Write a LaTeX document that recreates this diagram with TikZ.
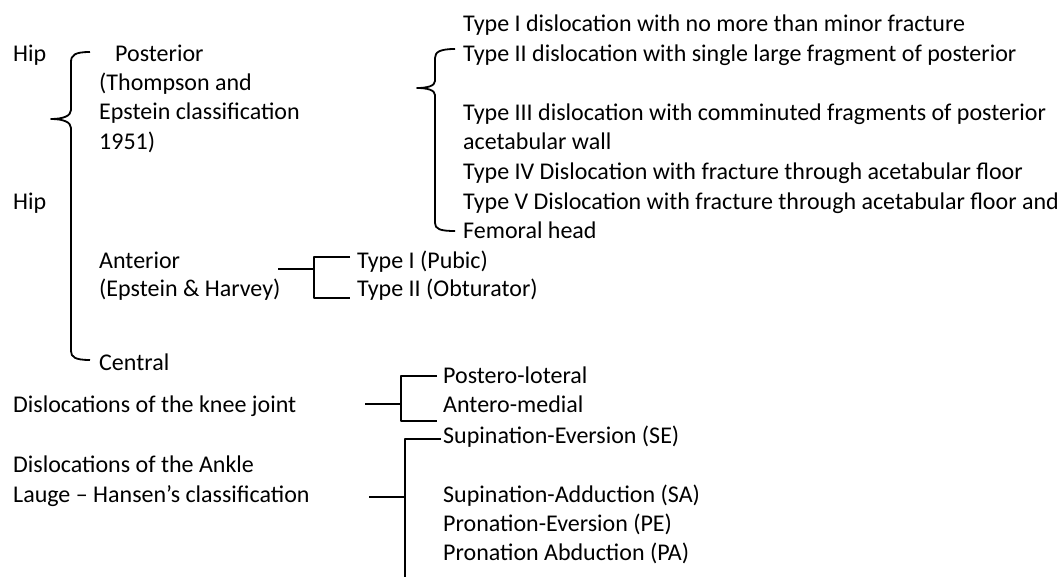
\documentclass[tikz,border=0pt]{standalone}
\usepackage{fontspec}
\setmainfont{Carlito}
\begin{document}
\begin{tikzpicture}[x=1pt,y=-1pt,
  lbl/.style={anchor=base west,inner sep=0pt,font=\fontsize{24}{29}\selectfont},
  ln/.style={line width=1.8pt,line join=round}]
\useasboundingbox[fill=white] (0,0) rectangle (1062,577);
% left column
\node[lbl] (hip1) at (13,61.5) {Hip};
\node[lbl] (hip2) at (13,209.5) {Hip};
\node[lbl] (post) at (115,61.5) {Posterior};
\node[lbl] (post2) at (99,90.5) {(Thompson and};
\node[lbl] (post3) at (99,120) {Epstein classification};
\node[lbl] (post4) at (99,149.5) {1951)};
\node[lbl] (ant) at (99,268.5) {Anterior};
\node[lbl] (ant2) at (99,296) {(Epstein \& Harvey)};
\node[lbl] (central) at (99,370) {Central};
% posterior types
\node[lbl] (t1) at (463,31.5) {Type I dislocation with no more than minor fracture};
\node[lbl] (t2) at (463,61.5) {Type II dislocation with single large fragment of posterior};
\node[lbl] (t3) at (463,120.5) {Type III dislocation with comminuted fragments of posterior};
\node[lbl] (t3b) at (463,150) {acetabular wall};
\node[lbl] (t4) at (463,179.5) {Type IV Dislocation with fracture through acetabular floor};
\node[lbl] (t5) at (463,209.5) {Type V Dislocation with fracture through acetabular floor and};
\node[lbl] (t5b) at (463,238.5) {Femoral head};
% anterior types
\node[lbl] (pub) at (357,268.5) {Type I (Pubic)};
\node[lbl] (obt) at (357,296) {Type II (Obturator)};
% knee
\node[lbl] (knee) at (13,412) {Dislocations of the knee joint};
\node[lbl] (pl) at (443,383) {Postero-loteral};
\node[lbl] (am) at (443,412) {Antero-medial};
% ankle
\node[lbl] (ank1) at (13,472.5) {Dislocations of the Ankle};
\node[lbl] (ank2) at (13,502) {Lauge -- Hansen’s classification};
\node[lbl] (se) at (443,443) {Supination-Eversion (SE)};
\node[lbl] (sa) at (443,502) {Supination-Adduction (SA)};
\node[lbl] (pe) at (443,531) {Pronation-Eversion (PE)};
\node[lbl] (pa) at (443,560) {Pronation Abduction (PA)};
% big brace
\coordinate (bA) at (90,52);
\coordinate (bC) at (51,119);
\coordinate (bB) at (90,360);
\draw[ln] (bA) .. controls (75,52) and (71,55) .. (71,62) -- (71,110)
  .. controls (71,116) and (63,119) .. (bC)
  .. controls (63,119) and (71,122) .. (71,128) -- (71,351)
  .. controls (71,357) and (75,360) .. (bB);
% right brace
\coordinate (rA) at (455,49);
\coordinate (rC) at (417,88);
\coordinate (rB) at (455,231);
\draw[ln] (rA) .. controls (440,49) and (435,52) .. (435,58) -- (435,81)
  .. controls (435,86) and (427,88) .. (rC)
  .. controls (427,88) and (435,90) .. (435,95) -- (435,223)
  .. controls (435,229) and (440,231) .. (rB);
% anterior bracket
\coordinate (aS) at (278,269);
\coordinate (aM) at (314,269);
\coordinate (aT) at (350,257);
\coordinate (aB) at (350,298);
\draw[ln] (aS) -- (aM);
\draw[ln] (aT) -| (aM) |- (aB);
% knee bracket
\coordinate (kS) at (365,404);
\coordinate (kM) at (401,404);
\coordinate (kT) at (437,376);
\coordinate (kB) at (437,421);
\draw[ln] (kS) -- (kM);
\draw[ln] (kT) -| (kM) |- (kB);
% ankle bracket
\coordinate (xS) at (369,497);
\coordinate (xM) at (405,497);
\coordinate (xT) at (441,439);
\coordinate (xE) at (405,577);
\draw[ln] (xS) -- (xM);
\draw[ln] (xT) -| (xE);
\end{tikzpicture}
\end{document}
